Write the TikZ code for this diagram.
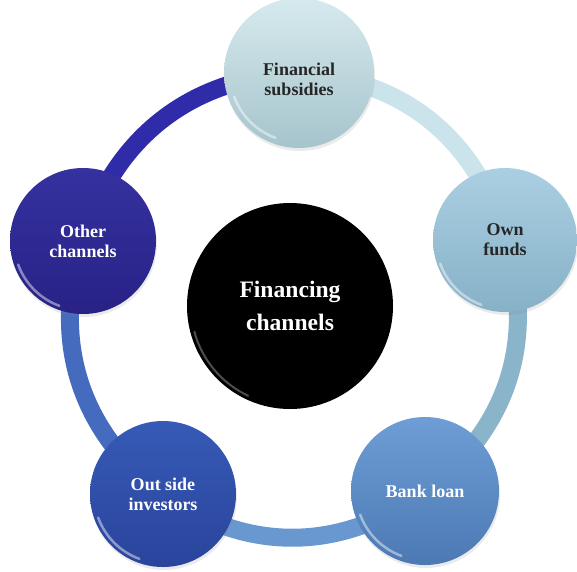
\documentclass[tikz,border=0pt]{standalone}
\usepackage{fontspec}
\setmainfont{Liberation Serif}
\usetikzlibrary{backgrounds, shadows}
\definecolor{subsidyTop}{HTML}{D6EAEE}
\definecolor{subsidyBot}{HTML}{A6C4CC}
\definecolor{fundsTop}{HTML}{ABCFE2}
\definecolor{fundsBot}{HTML}{86B1C7}
\definecolor{loanTop}{HTML}{6E9ED5}
\definecolor{loanBot}{HTML}{4C79B4}
\definecolor{investTop}{HTML}{365AB6}
\definecolor{investBot}{HTML}{2A449C}
\definecolor{otherTop}{HTML}{35319F}
\definecolor{otherBot}{HTML}{282286}
\tikzset{
x=1pt, y=1pt, % one unit is one point
every node/.style={font=\bfseries\fontsize{18}{20}\selectfont, align=center}, % text of all nodes
channel/.style={circle, minimum size=146, inner sep=0pt,
  drop shadow={opacity=.16, shadow xshift=1pt, shadow yshift=-3pt},
  path picture={\draw[white, opacity=.45, line width=2.5pt, line cap=round]
    (path picture bounding box.center) ++(200:69) arc (200:250:69);}}, % the outer bubbles
hub/.style={circle, minimum size=206, inner sep=0pt, fill=black, text=white,
  font=\bfseries\fontsize{23.6}{33}\selectfont,
  path picture={\draw[white, opacity=.3, line width=2pt, line cap=round]
    (path picture bounding box.center) ++(195:99) arc (195:245:99);}}, % the middle one
link/.style={line width=18pt}, % the ring between bubbles
}

\begin{document}
\begin{tikzpicture}
  \useasboundingbox (0,0) rectangle (577,-571);
  \node[hub] (financing) at (290,-306) {Financing\\channels};
  \node[channel, minimum size=150, top color=subsidyTop, bottom color=subsidyBot, text=black!85] (subsidies) at (299,-73) {\rule{0pt}{26pt}Financial\\subsidies};
  \node[channel, minimum size=144, top color=fundsTop, bottom color=fundsBot, text=black!85] (funds) at (505,-240) {Own\\funds};
  \node[channel, minimum size=148, top color=loanTop, bottom color=loanBot, text=white] (loan) at (425,-491) {Bank loan};
  \node[channel, top color=investTop, bottom color=investBot, text=white] (investors) at (163,-494) {Out side\\investors};
  \node[channel, top color=otherTop, bottom color=otherBot, text=white] (other) at (83,-241) {Other\\channels};
  \begin{scope}[on background layer]
    \draw[link, draw=subsidyTop!75!fundsTop] (subsidies.center) to[bend left=36] (funds.center);
    \draw[link, draw=fundsBot!90!fundsTop] (funds.center) to[bend left=36] (loan.center);
    \draw[link, draw=loanTop!85!loanBot] (loan.center) to[bend left=36] (investors.center);
    \draw[link, draw=investTop!75!loanTop] (investors.center) to[bend left=36] (other.center);
    \draw[link, draw=otherTop!90!blue] (other.center) to[bend left=36] (subsidies.center);
  \end{scope}
\end{tikzpicture}
\end{document}
